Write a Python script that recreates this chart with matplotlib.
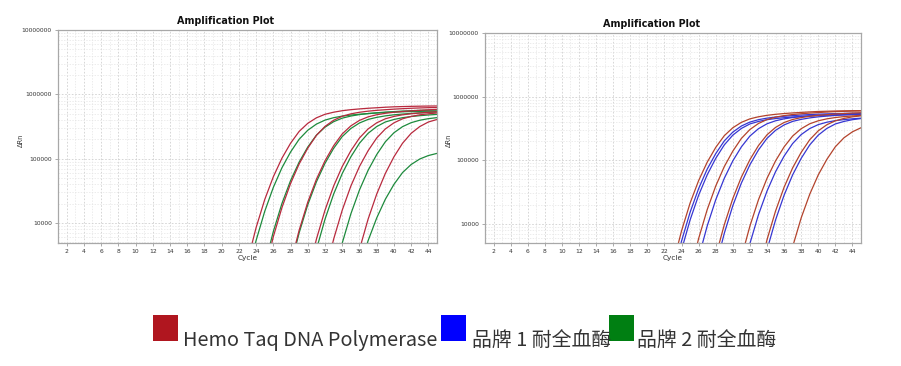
import matplotlib
matplotlib.use('Agg')
import matplotlib.pyplot as plt
from matplotlib.ticker import FixedLocator, LogLocator, NullFormatter
from matplotlib.patches import Rectangle

# ---------------- data (ΔRn per cycle) ----------------
cycle_ticks = list(range(2, 45, 2))
y_ticks = [1e4, 1e5, 1e6, 1e7]
y_tick_labels = ['10000', '100000', '1000000', '10000000']

# left panel: Hemo Taq (red) vs brand 2 (green)
left_red_starts = [23, 25, 28, 30, 32, 35]
left_red_values = [
    [2540, 8510, 23200, 52500, 102000, 174000, 266000, 355000, 432000, 490000, 528000, 557000,
     578000, 594000, 608000, 619000, 631000, 640000, 646000, 651000, 655000, 658000, 660000],
    [1730, 6160, 17400, 41200, 83100, 146000, 231000, 318000, 396000, 457000, 498000, 527000,
     548000, 564000, 577000, 589000, 599000, 608000, 615000, 621000, 625000],
    [2320, 7760, 21200, 47900, 93000, 159000, 243000, 324000, 394000, 447000, 482000, 508000,
     527000, 542000, 554000, 565000, 575000, 584000],
    [1580, 5620, 15900, 37600, 75800, 133000, 210000, 290000, 361000, 417000, 454000, 481000,
     499000, 514000, 527000, 537000],
    [1580, 5620, 15900, 37600, 75800, 133000, 210000, 290000, 361000, 417000, 454000, 481000,
     499000, 514000],
    [1050, 3890, 11500, 28200, 58900, 107000, 174000, 248000, 316000, 372000, 407000],
]
left_green_starts = [23, 25, 28, 30, 33, 35]
left_green_values = [
    [1510, 5370, 15200, 35900, 72400, 127000, 201000, 277000, 345000, 398000, 434000, 459000,
     477000, 491000, 503000, 513000, 522000, 530000, 536000, 541000, 544000, 547000, 549000],
    [2210, 7410, 20200, 45700, 88800, 152000, 232000, 309000, 376000, 427000, 460000, 485000,
     503000, 517000, 530000, 539000, 550000, 557000, 563000, 567000, 571000],
    [2110, 7080, 19300, 43700, 84900, 145000, 221000, 295000, 359000, 408000, 439000, 463000,
     481000, 494000, 506000, 515000, 525000, 532000],
    [1050, 3890, 11500, 28200, 58900, 107000, 174000, 248000, 316000, 372000, 407000, 434000,
     452000, 466000, 478000, 488000],
    [1380, 4900, 13900, 32700, 66000, 116000, 183000, 253000, 315000, 363000, 396000, 419000,
     435000],
    [582, 1950, 5320, 12000, 23400, 39900, 60900, 81300, 99000, 112000, 121000],
]

# right panel: Hemo Taq (red) vs brand 1 (blue)
right_red_starts = [23, 25, 28, 31, 33, 36]
right_red_values = [
    [2320, 7760, 21200, 47900, 93000, 159000, 243000, 324000, 394000, 447000, 482000, 508000,
     527000, 542000, 554000, 565000, 575000, 584000, 589000, 594000, 597000, 600000, 602000],
    [1650, 5890, 16700, 39300, 79400, 139000, 220000, 304000, 378000, 436000, 476000, 503000,
     523000, 538000, 551000, 562000, 572000, 581000, 587000, 593000, 596000],
    [3090, 9660, 25000, 54300, 102000, 170000, 251000, 328000, 392000, 437000, 468000, 491000,
     508000, 520000, 532000, 542000, 552000, 558000],
    [2950, 9230, 23900, 51900, 97700, 162000, 240000, 313000, 374000, 417000, 447000, 469000,
     485000, 497000, 508000],
    [1580, 5620, 15900, 37600, 75800, 133000, 210000, 290000, 361000, 417000, 454000, 481000,
     499000],
    [1230, 4370, 12400, 29200, 58900, 103000, 163000, 225000, 280000, 324000],
]
right_blue_starts = [23, 23, 26, 28, 31, 33]
right_blue_values = [
    [1510, 5370, 15200, 35900, 72400, 127000, 201000, 277000, 345000, 398000, 434000, 459000,
     477000, 491000, 503000, 513000, 522000, 530000, 536000, 541000, 544000, 547000, 549000],
    [1050, 3890, 11500, 28200, 58900, 107000, 174000, 248000, 316000, 372000, 407000, 434000,
     452000, 466000, 478000, 488000, 497000, 505000, 511000, 515000, 519000, 521000, 524000],
    [2950, 9230, 23900, 51900, 97700, 162000, 240000, 313000, 374000, 417000, 447000, 469000,
     485000, 497000, 508000, 518000, 527000, 533000, 538000, 542000],
    [2110, 7080, 19300, 43700, 84900, 145000, 221000, 295000, 359000, 408000, 439000, 463000,
     481000, 494000, 506000, 515000, 525000, 532000],
    [1380, 4900, 13900, 32700, 66000, 116000, 183000, 253000, 315000, 363000, 396000, 419000,
     435000, 448000, 459000],
    [1050, 3890, 11500, 28200, 58900, 107000, 174000, 248000, 316000, 372000, 407000, 434000,
     452000],
]

legend_labels = ['Hemo Taq DNA Polymerase', '品牌 1 耐全血酶', '品牌 2 耐全血酶']
legend_colors = ['#b0161f', '#0000ff', '#007f12']

# ---------------- figure ----------------
W, H = 901, 366
fig = plt.figure(figsize=(W / 100, H / 100), dpi=100)
fig.patch.set_facecolor('white')


def fx(px):
    return px / W


def fy(py):
    return 1 - py / H


def make_axes(x0, x1, y0, y1, ylo):
    ax = fig.add_axes([fx(x0), fy(y1), fx(x1) - fx(x0), fy(y0) - fy(y1)])
    ax.set_yscale('log')
    ax.set_xlim(1, 45)
    ax.set_ylim(ylo, 1e7)
    ax.xaxis.set_major_locator(FixedLocator(cycle_ticks))
    ax.xaxis.set_minor_locator(FixedLocator(list(range(1, 46))))
    ax.set_xticklabels([str(t) for t in cycle_ticks])
    ax.yaxis.set_major_locator(FixedLocator(y_ticks))
    ax.set_yticklabels(y_tick_labels)
    ax.yaxis.set_minor_locator(LogLocator(base=10, subs=range(2, 10)))
    ax.yaxis.set_minor_formatter(NullFormatter())
    ax.tick_params(axis='both', which='major', labelsize=4.3, length=2, width=0.5,
                   color='#888888', labelcolor='#333333', pad=2.5)
    ax.tick_params(axis='both', which='minor', length=0)
    ax.grid(True, which='major', color='#d0d0d0', lw=0.6, ls=(0, (2, 2)))
    ax.grid(True, which='minor', color='#e4e4e4', lw=0.5, ls=(0, (2, 2)))
    for s in ax.spines.values():
        s.set_color('#a8a8a8')
        s.set_linewidth(0.9)
    ax.set_axisbelow(True)
    return ax


def draw(ax, starts, values, color):
    for st, vals in zip(starts, values):
        cyc = list(range(st, st + len(vals)))
        ax.plot(cyc, vals, color=color, lw=0.9, solid_capstyle='round')


axL = make_axes(58, 437, 30, 243, 4900)
draw(axL, left_green_starts, left_green_values, '#1d8a3c')
draw(axL, left_red_starts, left_red_values, '#b82a3e')

axR = make_axes(485, 861, 33, 243, 5000)
draw(axR, right_blue_starts, right_blue_values, '#3636d2')
draw(axR, right_red_starts, right_red_values, '#b3432c')

for ax, cx, ty, ylx in [(axL, 226, 21, 21), (axR, 652, 24, 449)]:
    fig.text(fx(cx), fy(ty), 'Amplification Plot', ha='center', va='center',
             fontsize=6.9, fontweight='bold', color='#111111', family='DejaVu Sans')
    fig.text(fx(ylx), fy(140), 'ΔRn', rotation=90, ha='center', va='center',
             fontsize=4.8, color='#333333')

fig.text(fx(247.5), fy(258), 'Cycle', ha='center', va='center', fontsize=5.3, color='#333333')
fig.text(fx(673), fy(258), 'Cycle', ha='center', va='center', fontsize=5.3, color='#333333')

# ---------------- legend ----------------
sq_x = [153, 441, 609]
txt_x = [183, 472, 637]
for lab, col, sx, tx in zip(legend_labels, legend_colors, sq_x, txt_x):
    fig.patches.append(Rectangle((fx(sx), fy(341)), 25 / W, 26 / H, transform=fig.transFigure,
                                 facecolor=col, edgecolor='none'))
    fig.text(fx(tx), fy(346), lab, ha='left', va='baseline', fontsize=14.3, color='#333333',
             family=['Noto Sans CJK SC', 'DejaVu Sans'])

fig.savefig('out.png', dpi=100, facecolor='white')
